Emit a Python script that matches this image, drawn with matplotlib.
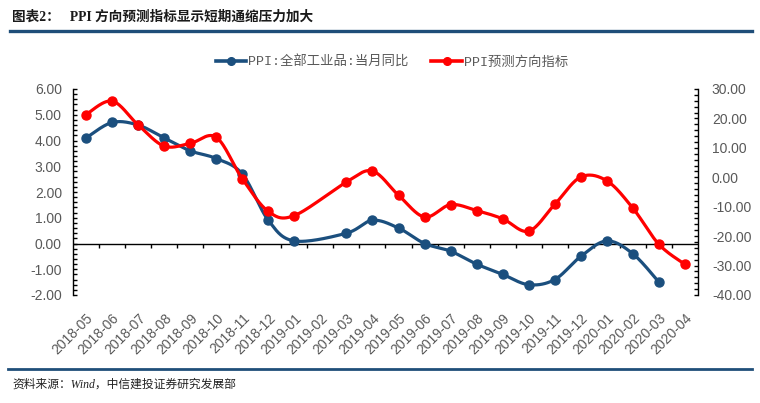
import numpy as np
import matplotlib
matplotlib.use("Agg")
import matplotlib.pyplot as plt
from matplotlib.lines import Line2D
from matplotlib.ticker import MultipleLocator, FormatStrFormatter
from matplotlib.transforms import ScaledTranslation

months = ["2018-05", "2018-06", "2018-07", "2018-08", "2018-09", "2018-10",
          "2018-11", "2018-12", "2019-01", "2019-02", "2019-03", "2019-04",
          "2019-05", "2019-06", "2019-07", "2019-08", "2019-09", "2019-10",
          "2019-11", "2019-12", "2020-01", "2020-02", "2020-03", "2020-04"]
ppi_yoy = [4.1, 4.7, 4.6, 4.1, 3.6, 3.3, 2.7, 0.9, 0.1, np.nan, 0.4, 0.9,
           0.6, 0.0, -0.3, -0.8, -1.2, -1.6, -1.4, -0.5, 0.1, -0.4, -1.5, np.nan]
ppi_signal = [21.3, 25.9, 17.8, 10.6, 11.5, 13.6, -0.5, -11.6, -13.0, np.nan, -1.6, 2.1,
              -6.1, -13.5, -9.3, -11.3, -14.1, -18.3, -9.2, 0.1, -1.2, -10.5, -22.8, -29.6]
name_yoy = "PPI:全部工业品:当月同比"
name_signal = "PPI预测方向指标"
title = "图表2：   PPI 方向预测指标显示短期通缩压力加大"
source = "资料来源：Wind，中信建投证券研究发展部"

BLUE = "#1B4F7E"
RED = "#FF0000"
GREY = "#595959"


def smooth(xs, ys, n=30):
    xs = np.asarray(xs, float)
    ys = np.asarray(ys, float)
    m = ~np.isnan(ys)
    xs, ys = xs[m], ys[m]
    P = np.column_stack([xs, ys])
    P = np.vstack([P[0], P, P[-1]])
    out = []
    t = np.linspace(0, 1, n)[:, None]
    for i in range(1, len(P) - 2):
        p0, p1, p2, p3 = P[i - 1], P[i], P[i + 1], P[i + 2]
        c1 = p1 + (p2 - p0) / 6
        c2 = p2 - (p3 - p1) / 6
        seg = ((1 - t) ** 3) * p1 + 3 * ((1 - t) ** 2) * t * c1 + 3 * (1 - t) * t ** 2 * c2 + t ** 3 * p2
        out.append(seg if i == 1 else seg[1:])
    arr = np.vstack(out)
    return arr[:, 0], arr[:, 1]


fig = plt.figure(figsize=(7.6, 4.03), dpi=100)
ax = fig.add_axes([73 / 760, 1 - 295 / 403, (698 - 73) / 760, (295 - 89) / 403])
ax2 = ax.twinx()

x = np.arange(len(months))

bx, by = smooth(x, ppi_yoy)
ax.plot(bx, by, color=BLUE, lw=2.3, zorder=3, solid_capstyle="round")
ax.plot(x, ppi_yoy, 'o', color=BLUE, ms=6.5, zorder=4)

rx, ry = smooth(x, ppi_signal)
ax2.plot(rx, ry, color=RED, lw=2.3, zorder=3, solid_capstyle="round")
ax2.plot(x, ppi_signal, 'o', color=RED, ms=6.5, zorder=4)

ax.set_xlim(-0.5, len(months) - 0.5)
ax.set_ylim(-2, 6)
ax2.set_ylim(-40, 30)

# zero line with category-boundary ticks
ax.axhline(0, color="black", lw=1.0, zorder=2)
ax.vlines(np.arange(len(months) - 1) + 0.5, -0.16, 0, color="black", lw=1.0, zorder=2)

for a in (ax, ax2):
    a.spines["top"].set_visible(False)
    a.spines["bottom"].set_visible(False)
ax.spines["left"].set_linewidth(1.0)
ax2.spines["right"].set_linewidth(1.0)
ax2.spines["left"].set_visible(False)
ax.spines["right"].set_visible(False)

ax.yaxis.set_major_locator(MultipleLocator(1))
ax.yaxis.set_minor_locator(MultipleLocator(0.2))
ax.yaxis.set_major_formatter(FormatStrFormatter("%.2f"))
ax2.yaxis.set_major_locator(MultipleLocator(10))
ax2.yaxis.set_minor_locator(MultipleLocator(2))
ax2.yaxis.set_major_formatter(FormatStrFormatter("%.2f"))

ax.tick_params(axis="y", which="both", direction="in", length=3, width=1, labelsize=10,
               labelcolor=GREY, pad=8)
ax2.tick_params(axis="y", which="both", direction="in", length=3, width=1, labelsize=10,
                labelcolor=GREY, pad=10)
for lab in ax.get_yticklabels() + ax2.get_yticklabels():
    lab.set_family("Liberation Sans")

ax.set_xticks(x)
ax.set_xticklabels(months, rotation=45, ha="right", va="center", rotation_mode="anchor",
                   fontsize=10, color=GREY, family="Liberation Sans")
ax.tick_params(axis="x", length=0, pad=15)
shift = ScaledTranslation(5 / 100, 0, fig.dpi_scale_trans)
for lab in ax.get_xticklabels():
    lab.set_transform(lab.get_transform() + shift)

# legend
handles = [Line2D([], [], color=BLUE, lw=2.6, marker='o', ms=5.5),
           Line2D([], [], color=RED, lw=2.6, marker='o', ms=5.5)]
leg = fig.legend(handles, [name_yoy, name_signal], loc="center", ncol=2,
                 bbox_to_anchor=(392 / 760, 1 - 62 / 403), frameon=False,
                 handlelength=2.3, handletextpad=0.15, columnspacing=1.7,
                 prop={"family": ["Liberation Mono", "Noto Sans CJK SC"], "size": 9.6})
for t in leg.get_texts():
    t.set_color(GREY)

# title, rules, source
fig.text(12 / 760, 1 - 17 / 403, title, fontsize=9.8, fontweight="bold", va="center",
         ha="left", family=["Liberation Serif", "Noto Sans CJK SC"], color="#1a1a1a")
fig.add_artist(Line2D([10 / 760, 752 / 760], [1 - 30.5 / 403] * 2, color="#1F4E79", lw=2.4))
fig.add_artist(Line2D([8 / 760, 752 / 760], [1 - 369 / 403] * 2, color="#1F4E79", lw=2.0))
fig.text(12 / 760, 1 - 385 / 403, source, fontsize=8.5, style="italic", va="center",
         ha="left", family=["Liberation Serif", "Noto Sans CJK SC"], color="#222222")

fig.savefig("out.png", dpi=100)
